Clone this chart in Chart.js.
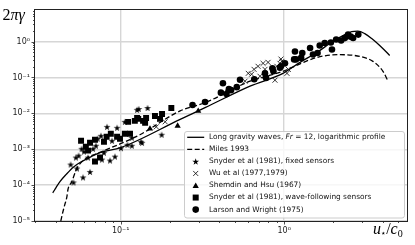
<!DOCTYPE html>
<html><head><meta charset="utf-8">
<script src="https://cdn.jsdelivr.net/npm/chart.js@4/dist/chart.umd.min.js"></script>
<style>html,body{margin:0;padding:0;background:#fff;}canvas{display:block;}</style>
</head><body>
<canvas id="c" width="415" height="245"></canvas>
<script>
// ---------- data ----------
const xRange = [0.0299, 5.64];
const yRange = [1e-5, 7.66];
const xTickValues = [0.1, 1];
const xTickLabels = ['10⁻¹', '10⁰'];
const yTickValues = [1e-5, 1e-4, 1e-3, 1e-2, 1e-1, 1];
const yTickLabels = ['10⁻⁵', '10⁻⁴', '10⁻³', '10⁻²', '10⁻¹', '10⁰'];
const seriesLabels = [
  'Long gravity waves, Fr = 12, logarithmic profile',
  'Miles 1993',
  'Snyder et al (1981), fixed sensors',
  'Wu et al (1977,1979)',
  'Shemdin and Hsu (1967)',
  'Snyder et al (1981), wave-following sensors',
  'Larson and Wright (1975)'
];
const yTitle = '2πγ';
const xTitle = ['u', '⋆', '/', 'c', '0'];

const longWaveX = [0.0384, 0.0403, 0.0426, 0.0464, 0.0513, 0.0577, 0.0649, 0.0747, 0.1, 0.231, 0.328, 0.618, 0.983, 1.25, 1.585, 1.98, 2.35, 2.59, 2.82, 3.11, 3.43, 3.84, 4.42];
const longWaveY = [6.05e-5, 8.7e-5, 1.27e-4, 1.99e-4, 3.16e-4, 4.54e-4, 5.97e-4, 8.05e-4, 1.11e-3, 6.8e-3, 0.0144, 0.0571, 0.130, 0.263, 0.496, 1.0, 1.56, 1.89, 1.95, 1.66, 1.21, 0.775, 0.410];

const milesX = [0.0430, 0.0441, 0.0454, 0.0468, 0.0476, 0.0501, 0.0538, 0.059, 0.0747, 0.099, 0.131, 0.231, 0.328, 0.618, 0.983, 1.25, 1.585, 2.19, 2.90, 3.49, 4.02, 4.32];
const milesY = [1e-5, 1.66e-5, 2.77e-5, 4.6e-5, 7.66e-5, 1.22e-4, 2.86e-4, 4.83e-4, 8.2e-4, 1.40e-3, 2.53e-3, 0.0117, 0.0198, 0.0785, 0.148, 0.239, 0.361, 0.430, 0.385, 0.28, 0.148, 0.0785];

const snyderFixedX = [0.0514, 0.0588, 0.0649, 0.0540, 0.0553, 0.0577, 0.0596, 0.0677, 0.0631, 0.0767, 0.0860, 0.0922, 0.0950, 0.0790, 0.0885, 0.1004, 0.117, 0.129, 0.106, 0.135, 0.126, 0.146, 0.133, 0.178, 0.117, 0.0757, 0.0494, 0.0532, 0.0706, 0.0825, 0.110, 0.0723];
const snyderFixedY = [1.19e-4, 1.64e-4, 2.33e-4, 2.91e-4, 6.65e-4, 1.03e-3, 8.57e-4, 1.03e-3, 5.86e-4, 5.16e-4, 4.83e-4, 6.24e-4, 3.95e-3, 8.0e-4, 1.72e-3, 1.07e-3, 1.25e-3, 0.0132, 5.78e-3, 1.51e-3, 0.0125, 0.0141, 1.61e-3, 2.53e-3, 2.09e-3, 2.37e-3, 3.75e-4, 5.86e-4, 1.25e-3, 4.20e-3, 1.33e-3, 1.96e-3];

const wuX = [0.603, 0.654, 0.692, 0.743, 0.797, 0.632, 0.711, 0.878, 0.902, 0.955, 0.969, 1.06, 1.04, 0.942, 0.576, 0.763, 0.174, 0.187, 0.165];
const wuY = [0.130, 0.168, 0.204, 0.247, 0.263, 0.123, 0.108, 0.0837, 0.204, 0.325, 0.280, 0.168, 0.130, 0.247, 0.0785, 0.168, 0.0070, 0.0058, 0.0042];

const shemdinX = [0.151, 0.223, 0.298, 0.440];
const shemdinY = [3.70e-3, 4.48e-3, 0.0116, 0.0365];

const snyderFollowX = [0.0572, 0.0649, 0.0696, 0.0820, 0.0870, 0.0950, 0.106, 0.111, 0.122, 0.128, 0.137, 0.0696, 0.0747, 0.114, 0.143, 0.162, 0.179, 0.204, 0.174, 0.141, 0.126, 0.099, 0.079, 0.0612, 0.0631];
const snyderFollowY = [1.72e-3, 1.51e-3, 1.83e-3, 2.22e-3, 2.69e-3, 2.22e-3, 2.69e-3, 5.78e-3, 6.16e-3, 7.0e-3, 6.16e-3, 4.53e-4, 5.86e-4, 2.69e-3, 7.45e-3, 8.46e-3, 9.62e-3, 0.0141, 7.0e-3, 5.42e-3, 7.45e-3, 1.96e-3, 1.61e-3, 1.17e-3, 9.14e-4];

const larsonX = [0.275, 0.328, 0.422, 0.410, 0.444, 0.473, 0.513, 0.537, 0.656, 0.763, 0.847, 0.955, 0.859, 0.942, 1.011, 1.15, 1.164, 1.27, 1.44, 1.50, 1.60, 1.77, 1.93, 1.96, 2.08, 2.23, 2.35, 2.46, 2.64, 2.84, 2.55, 1.65, 1.29, 1.18, 0.775, 0.459];
const larsonY = [0.0171, 0.0206, 0.0691, 0.0377, 0.0343, 0.0442, 0.0536, 0.0864, 0.0891, 0.130, 0.180, 0.204, 0.148, 0.187, 0.247, 0.318, 0.529, 0.350, 0.661, 0.437, 0.481, 0.909, 0.938, 0.601, 1.136, 1.066, 1.245, 1.56, 1.25, 1.56, 1.37, 0.775, 0.481, 0.318, 0.097, 0.0471];

// ---------- helpers ----------
const zip = (xs, ys) => xs.map((x, i) => ({x: x, y: ys[i]}));
function starPath(g, cx, cy, R) {
  const r = R * 0.382;
  g.beginPath();
  for (let i = 0; i < 10; i++) {
    const a = -Math.PI / 2 + i * Math.PI / 5;
    const rr = i % 2 ? r : R;
    g.lineTo(cx + rr * Math.cos(a), cy + rr * Math.sin(a));
  }
  g.closePath();
}
function starCanvas(R) {
  const s = 10;
  const c = document.createElement('canvas');
  c.width = s; c.height = s;
  const g = c.getContext('2d');
  g.fillStyle = '#000';
  starPath(g, s / 2, s / 2 + 0.4, R);
  g.fill();
  return c;
}
const STAR = starCanvas(3.6);

function drawMarker(ctx, kind, x, y) {
  ctx.save();
  ctx.fillStyle = '#000'; ctx.strokeStyle = '#000';
  if (kind === 'line' || kind === 'dash') {
    ctx.lineWidth = 1.3;
    if (kind === 'dash') ctx.setLineDash([5, 2.5]);
    ctx.beginPath(); ctx.moveTo(x - 8.5, y); ctx.lineTo(x + 8.5, y); ctx.stroke();
  } else if (kind === 'star') {
    starPath(ctx, x, y + 0.4, 3.6); ctx.fill();
  } else if (kind === 'x') {
    ctx.lineWidth = 0.8; const d = 2.5;
    ctx.beginPath(); ctx.moveTo(x - d, y - d); ctx.lineTo(x + d, y + d);
    ctx.moveTo(x - d, y + d); ctx.lineTo(x + d, y - d); ctx.stroke();
  } else if (kind === 'tri') {
    const r = 3.6;
    ctx.beginPath();
    for (let i = 0; i < 3; i++) {
      const a = -Math.PI / 2 + i * 2 * Math.PI / 3;
      ctx.lineTo(x + r * Math.cos(a), y + 0.6 + r * Math.sin(a));
    }
    ctx.closePath(); ctx.fill();
  } else if (kind === 'sq') {
    ctx.fillRect(x - 3, y - 3, 6, 6);
  } else if (kind === 'dot') {
    ctx.beginPath(); ctx.arc(x, y, 3.3, 0, Math.PI * 2); ctx.fill();
  }
  ctx.restore();
}
const legendKinds = ['line', 'dash', 'star', 'x', 'tri', 'sq', 'dot'];

// ---------- plugins ----------
const decorations = {
  id: 'decorations',
  afterDatasetsDraw(chart) {
    const {ctx, chartArea: a, scales: {x, y}} = chart;
    ctx.save();
    ctx.strokeStyle = '#222';
    ctx.lineWidth = 0.8;
    // minor + major ticks
    ctx.beginPath();
    for (let d = -2; d <= 1; d++) {
      for (let k = 1; k <= 9; k++) {
        const v = k * Math.pow(10, d);
        if (v < xRange[0] || v > xRange[1]) continue;
        const px = Math.round(x.getPixelForValue(v)) + 0.5;
        const len = k === 1 ? 3.5 : 2;
        ctx.moveTo(px, a.bottom); ctx.lineTo(px, a.bottom + len);
      }
    }
    for (let d = -6; d <= 1; d++) {
      for (let k = 1; k <= 9; k++) {
        const v = k * Math.pow(10, d);
        if (v < yRange[0] * 0.999 || v > yRange[1]) continue;
        const py = Math.round(y.getPixelForValue(v)) + 0.5;
        const len = k === 1 ? 3.5 : 2;
        ctx.moveTo(a.left, py); ctx.lineTo(a.left - len, py);
      }
    }
    ctx.stroke();
    // frame
    ctx.lineWidth = 1;
    ctx.strokeStyle = '#222';
    ctx.strokeRect(Math.round(a.left) - 0.5, Math.round(a.top) - 0.5,
                   Math.round(a.right - a.left) + 1, Math.round(a.bottom - a.top) + 1);
    ctx.restore();
  },
  afterDraw(chart) {
    const ctx = chart.ctx;
    ctx.save();
    // legend box
    const L = 184, T = 131, R = 404, B = 217.5;
    ctx.fillStyle = 'rgba(255,255,255,0.8)';
    ctx.strokeStyle = '#cccccc';
    ctx.lineWidth = 1;
    ctx.beginPath();
    if (ctx.roundRect) ctx.roundRect(L + 0.5, T + 0.5, R - L, B - T, 2.5);
    else ctx.rect(L + 0.5, T + 0.5, R - L, B - T);
    ctx.fill(); ctx.stroke();
    const font = '7.4px "DejaVu Sans"';
    ctx.textBaseline = 'middle';
    ctx.fillStyle = '#111';
    seriesLabels.forEach((lab, i) => {
      const cy = 137.3 + i * 12.05;
      drawMarker(ctx, legendKinds[i], 195.7, cy);
      ctx.fillStyle = '#111';
      ctx.font = font;
      const tx = 209;
      if (i === 0) {
        const parts = lab.split('Fr');
        ctx.fillText(parts[0], tx, cy);
        let w = ctx.measureText(parts[0]).width;
        ctx.font = 'italic ' + font;
        ctx.fillText('Fr', tx + w, cy);
        w += ctx.measureText('Fr').width;
        ctx.font = font;
        ctx.fillText(parts[1], tx + w, cy);
      } else {
        ctx.fillText(lab, tx, cy);
      }
    });
    // y title
    ctx.fillStyle = '#000';
    ctx.textBaseline = 'alphabetic';
    ctx.font = '16px "Liberation Serif"';
    ctx.fillText(yTitle[0], 2.5, 19.5);
    let w = ctx.measureText(yTitle[0]).width;
    ctx.font = 'italic 16px "Liberation Serif"';
    ctx.fillText(yTitle.slice(1), 2.5 + w, 19.5);
    // x title
    let xx = 373;
    const base = 233.5;
    ctx.font = 'italic 16px "Liberation Serif"';
    ctx.fillText(xTitle[0], xx, base); xx += ctx.measureText(xTitle[0]).width;
    ctx.font = '9px "DejaVu Sans"';
    ctx.fillText(xTitle[1], xx - 0.5, base + 2.5); xx += ctx.measureText(xTitle[1]).width - 0.5;
    ctx.font = '16px "Liberation Serif"';
    ctx.fillText(xTitle[2], xx, base); xx += ctx.measureText(xTitle[2]).width;
    ctx.font = 'italic 16px "Liberation Serif"';
    ctx.fillText(xTitle[3], xx, base); xx += ctx.measureText(xTitle[3]).width;
    ctx.font = '10px "Liberation Serif"';
    ctx.fillText(xTitle[4], xx, base + 3);
    ctx.restore();
  }
};

// ---------- chart ----------
const lineCommon = {type: 'scatter', showLine: true, pointRadius: 0, borderColor: '#000', backgroundColor: '#000',
  borderWidth: 1.3, cubicInterpolationMode: 'monotone', order: 10};
const ptCommon = {type: 'scatter', borderColor: '#000', backgroundColor: '#000', borderWidth: 0, order: 1};

new Chart(document.getElementById('c'), {
  type: 'scatter',
  data: {
    datasets: [
      Object.assign({}, lineCommon, {label: seriesLabels[0], data: zip(longWaveX, longWaveY)}),
      Object.assign({}, lineCommon, {label: seriesLabels[1], data: zip(milesX, milesY), borderDash: [5, 2.5]}),
      Object.assign({}, ptCommon, {label: seriesLabels[2], data: zip(snyderFixedX, snyderFixedY), pointStyle: STAR, pointRadius: 4}),
      Object.assign({}, ptCommon, {label: seriesLabels[3], data: zip(wuX, wuY), pointStyle: 'crossRot', pointRadius: 3.5, borderWidth: 0.8}),
      Object.assign({}, ptCommon, {label: seriesLabels[4], data: zip(shemdinX, shemdinY), pointStyle: 'triangle', pointRadius: 3.6}),
      Object.assign({}, ptCommon, {label: seriesLabels[5], data: zip(snyderFollowX, snyderFollowY), pointStyle: 'rect', pointRadius: 4.2}),
      Object.assign({}, ptCommon, {label: seriesLabels[6], data: zip(larsonX, larsonY), pointStyle: 'circle', pointRadius: 3.3})
    ]
  },
  options: {
    responsive: false,
    animation: false,
    devicePixelRatio: 1,
    layout: {padding: {top: 8, right: 8, left: 0, bottom: 0}},
    plugins: {legend: {display: false}, tooltip: {enabled: false}},
    scales: {
      x: {
        type: 'logarithmic', min: xRange[0], max: xRange[1],
        afterBuildTicks: s => { s.ticks = xTickValues.map(v => ({value: v, major: true})); },
        afterFit: s => { s.height = 24; },
        border: {display: false},
        grid: {color: '#d6d6d6', lineWidth: 1.4, drawTicks: false},
        ticks: {callback: v => { const i = xTickValues.indexOf(v); return i >= 0 ? xTickLabels[i] : ''; },
                font: {family: 'DejaVu Sans', size: 8}, color: '#222', padding: 5, maxRotation: 0, autoSkip: false}
      },
      y: {
        type: 'logarithmic', min: yRange[0], max: yRange[1],
        afterBuildTicks: s => { s.ticks = yTickValues.map(v => ({value: v, major: true})); },
        afterFit: s => { s.width = 35; },
        border: {display: false},
        grid: {color: '#d6d6d6', lineWidth: 1.4, drawTicks: false},
        ticks: {callback: v => { const i = yTickValues.indexOf(v); return i >= 0 ? yTickLabels[i] : ''; },
                font: {family: 'DejaVu Sans', size: 8}, color: '#222', padding: 5, autoSkip: false}
      }
    }
  },
  plugins: [decorations]
});
</script>
</body></html>
